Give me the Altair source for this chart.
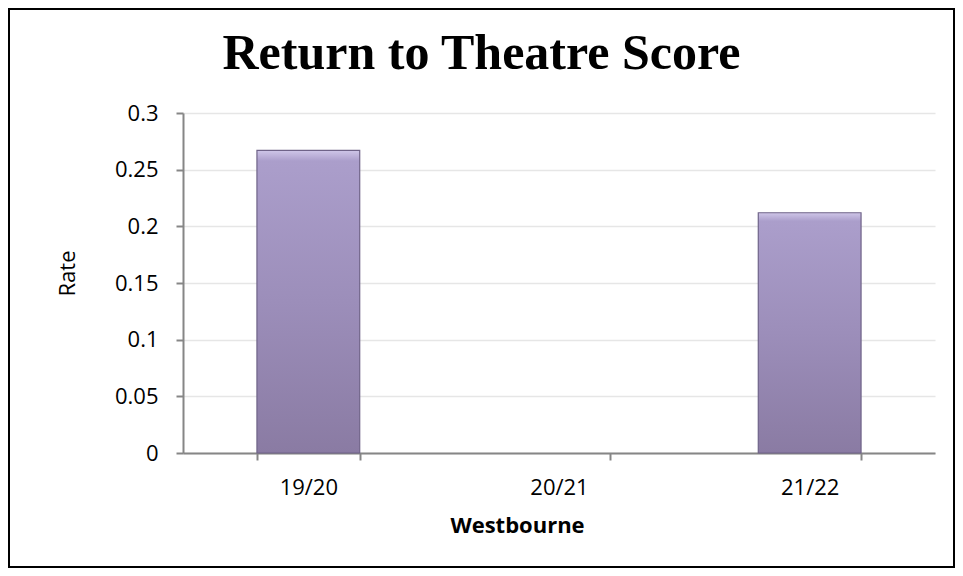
import altair as alt
import pandas as pd

categories = ["19/20", "20/21", "21/22"]
rates = [0.267, None, 0.212]
y_ticks = [0, 0.05, 0.1, 0.15, 0.2, 0.25, 0.3]

df = pd.DataFrame({"Year": categories, "Rate": rates})

W, H = 752, 340
PAD = {"left": 175, "top": 105, "right": 20, "bottom": 115}

bars = alt.Chart(df).mark_bar(
    color=alt.Gradient(
        gradient="linear",
        x1=0, y1=0, x2=0, y2=1,
        stops=[
            alt.GradientStop(color="#cfc6e8", offset=0),
            alt.GradientStop(color="#ab9ecb", offset=0.035),
            alt.GradientStop(color="#9c8eba", offset=0.5),
            alt.GradientStop(color="#8a7ba3", offset=1),
        ],
    ),
    stroke="#6f6388",
    strokeWidth=1.2,
).encode(
    x=alt.X(
        "Year:N",
        sort=categories,
        scale=alt.Scale(domain=categories, paddingInner=0.59, paddingOuter=0.295),
        axis=alt.Axis(
            title="Westbourne",
            labelAngle=0,
            tickBand="extent",
            tickSize=7,
            tickWidth=2,
            tickColor="#868686",
            domainColor="#868686",
            domainWidth=2,
            labelFont="Open Sans",
            labelFontSize=22,
            labelColor="#000000",
            labelPadding=17,
            titleFont="Open Sans",
            titleFontSize=22,
            titleFontWeight="bold",
            titleColor="#000000",
            titleX=334,
            titleY=79,
            titleBaseline="alphabetic",
            titleAlign="center",
            grid=False,
        ),
    ),
    y=alt.Y(
        "Rate:Q",
        scale=alt.Scale(domain=[0, 0.3], nice=False),
        axis=alt.Axis(
            title="Rate",
            values=y_ticks,
            format="~g",
            tickSize=7,
            tickWidth=2,
            tickColor="#868686",
            domainColor="#868686",
            domainWidth=2,
            labelFont="Open Sans",
            labelFontSize=22,
            labelColor="#000000",
            labelPadding=18,
            titleFont="Open Sans",
            titleFontSize=22,
            titleFontWeight="normal",
            titleColor="#000000",
            titleX=-116,
            titleY=160,
            titleAngle=-90,
            titleBaseline="middle",
            titleAlign="center",
            grid=True,
            gridColor="#e6e6e6",
            gridWidth=1.5,
        ),
    ),
)

frame = alt.Chart(df).mark_rect(
    fill=None, stroke="#000000", strokeWidth=2
).encode(
    x=alt.value(-PAD["left"] + 1),
    x2=alt.value(W + PAD["right"] - 1),
    y=alt.value(-PAD["top"] + 1),
    y2=alt.value(H + PAD["bottom"] - 1),
)

chart = alt.layer(bars, frame).properties(
    width=W,
    height=H,
    autosize=alt.AutoSizeParams(type="none"),
    padding=PAD,
    background="white",
    title=alt.TitleParams(
        "Return to Theatre Score",
        font="Liberation Serif",
        fontSize=50,
        fontWeight="bold",
        color="#000000",
        anchor="middle",
        frame="bounds",
        baseline="alphabetic",
        offset=-111,
    ),
).configure_view(stroke=None)

chart.save("out.html", embed_options={"renderer": "svg", "actions": False})
